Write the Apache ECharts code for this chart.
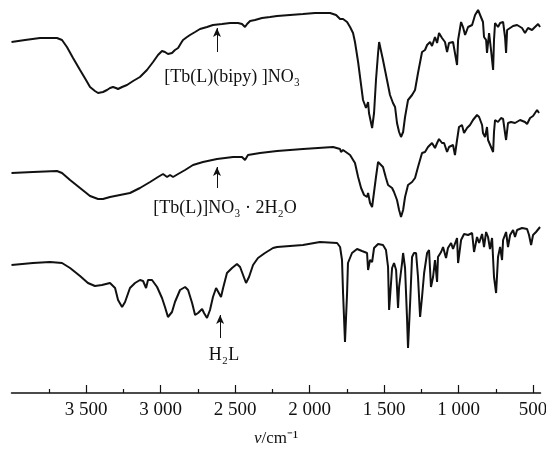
<!DOCTYPE html>
<html>
<head>
<meta charset="utf-8">
<script src="https://cdn.jsdelivr.net/npm/echarts@6.0.0/dist/echarts.min.js"></script>
<style>
	html, body { margin: 0; padding: 0; background: #fff; }
	#chart { width: 546px; height: 450px; }
</style>
</head>
<body>
<div id="chart"></div>
<script>
	// 红外光谱 (arbitrary offset transmittance)
	const bipyWn = [4000,3909,3809,3695,3661,3628,3587,3540,3500,3473,3440,3419,3386,3359,3339,3319,3299,3285,3258,3225,3184,3138,3091,3050,3017,2990,2970,2950,2923,2903,2882,2862,2849,2822,2802,2768,2735,2688,2648,2587,2533,2480,2453,2433,2419,2399,2366,2319,2265,2218,2131,2044,1963,1862,1822,1795,1789,1775,1748,1728,1708,1695,1674,1654,1641,1621,1607,1601,1580,1567,1554,1540,1533,1520,1507,1480,1460,1440,1426,1413,1399,1386,1372,1359,1339,1312,1292,1272,1245,1225,1211,1191,1178,1158,1144,1131,1111,1091,1077,1064,1037,1024,1010,1003,983,970,956,936,909,889,869,856,836,829,815,809,795,782,768,762,755,735,721,701,688,681,674,654,634,607,574,554,534,507,487,466,453];
	const bipyT = [351,353,355,355,353,346,335,323,313,306,302,300,301,303,305,306,305,304,306,308,312,316,323,331,338,342,341,339,340,343,345,350,353,356,358,361,364,366,368,369,370,370,369,366,369,372,373,375,376,377,378,379,380,380,378,374,372,374,371,366,360,351,331,308,293,285,291,280,265,280,313,340,351,350,333,313,298,290,286,270,261,256,261,276,293,298,303,320,341,343,348,351,347,356,350,360,355,351,341,350,351,350,328,353,371,366,358,366,368,378,383,381,371,356,353,340,360,343,323,353,370,366,370,371,356,340,363,365,367,368,365,360,365,363,366,369,366];

	const hydWn = [4000,3856,3695,3661,3607,3540,3473,3419,3386,3339,3272,3205,3138,3070,3017,2983,2956,2936,2916,2882,2835,2782,2715,2621,2513,2453,2433,2413,2332,2218,2044,1842,1795,1789,1775,1728,1695,1674,1654,1634,1614,1607,1594,1580,1574,1554,1540,1527,1507,1487,1473,1446,1433,1413,1399,1386,1372,1359,1339,1312,1292,1272,1245,1225,1205,1178,1158,1144,1131,1111,1097,1077,1064,1037,1024,1010,997,977,963,943,923,903,876,862,842,836,822,809,802,782,768,762,755,735,715,701,688,681,668,648,621,587,554,540,520,500,473,460];
	const hydT = [220,221,222,220,213,205,197,194,194,196,198,200,205,211,216,219,216,218,216,219,223,228,231,234,236,236,233,238,240,242,244,246,244,241,243,238,230,216,205,198,196,200,190,186,193,216,231,233,226,215,208,205,201,193,183,176,183,196,208,211,215,226,240,241,246,250,245,250,254,250,250,241,246,248,238,253,266,268,260,265,268,273,278,276,268,260,256,266,253,246,241,261,273,271,275,274,260,253,270,271,270,273,271,269,275,277,283,280];

	const ligWn = [4000,3856,3742,3661,3607,3540,3487,3440,3393,3339,3305,3285,3258,3238,3205,3171,3138,3117,3097,3084,3057,3023,2990,2970,2950,2923,2903,2869,2835,2815,2788,2768,2748,2721,2708,2688,2668,2648,2627,2614,2594,2580,2554,2520,2487,2466,2446,2426,2406,2379,2346,2299,2245,2218,2044,1930,1815,1795,1782,1775,1762,1748,1742,1715,1681,1648,1614,1607,1594,1580,1567,1540,1507,1487,1473,1466,1453,1446,1433,1419,1406,1399,1379,1372,1359,1346,1339,1325,1312,1299,1285,1272,1258,1245,1231,1211,1198,1185,1171,1158,1144,1138,1117,1104,1084,1071,1050,1037,1010,1003,983,963,936,909,896,876,862,842,829,815,802,789,775,762,748,735,721,708,701,681,668,654,634,621,607,574,540,527,513,500,480,453];
	const ligT = [128,130,131,130,125,117,110,107,108,110,105,93,86,91,105,110,113,112,105,113,113,106,95,86,76,81,91,103,106,103,90,78,80,84,80,75,83,96,105,106,96,105,120,125,129,126,118,110,116,128,135,140,145,146,148,151,150,146,133,100,51,100,130,140,144,142,140,123,133,131,145,149,148,143,126,83,85,125,130,123,85,106,130,140,125,76,45,90,136,140,140,116,76,96,120,140,143,106,116,133,111,136,141,146,135,145,150,144,155,130,153,159,158,160,141,156,150,159,146,161,156,144,155,116,100,136,146,133,153,161,146,158,163,156,163,165,164,158,148,158,161,166];

	const majorTicks = [3500, 3000, 2500, 2000, 1500, 1000, 500];
	const minorTicks = [3750, 3250, 2750, 2250, 1750, 1250, 750];

	// 标注: 名称, 箭头位置 (波数, 尾, 头), 文字中心
	const labelNames = ['[Tb(L)(bipy) ]NO₃', '[Tb(L)]NO₃ · 2H₂O', 'H₂L'];
	const arrowWn = [2621, 2621, 2600];
	const arrowFrom = [341, 205, 55];
	const arrowTo = [365, 226, 78];
	const labelWn = [2520, 2567, 2574];
	const labelT = [316, 185, 38];

	const serif = "'Liberation Serif', 'Times New Roman', serif";
	const ink = '#111';

	function zip(a, b) {
		return a.map((v, i) => [v, b[i]]);
	}

	function fmtTick(v) {
		if (v >= 1000) {
			return Math.floor(v / 1000) + ' ' + String(v % 1000).padStart(3, '0');
		}
		return String(v);
	}

	const curves = [zip(bipyWn, bipyT), zip(hydWn, hydT), zip(ligWn, ligT)];

	const series = curves.map((d, i) => ({
		type: 'line',
		data: d,
		showSymbol: false,
		symbol: 'none',
		lineStyle: { color: ink, width: 2 },
		animation: false,
		markLine: {
			silent: true,
			symbol: ['none', 'arrow'],
			symbolSize: [6, 9],
			lineStyle: { color: ink, width: 1, type: 'solid' },
			label: { show: false },
			data: [[{ coord: [arrowWn[i], arrowFrom[i]] }, { coord: [arrowWn[i], arrowTo[i]] }]]
		},
		markPoint: {
			silent: true,
			symbol: 'circle',
			symbolSize: 0,
			label: {
				show: true,
				position: 'inside',
				color: ink,
				fontFamily: serif,
				fontSize: 18,
				formatter: labelNames[i]
			},
			data: [{ coord: [labelWn[i], labelT[i]] }]
		}
	}));

	const myChart = echarts.init(document.getElementById('chart'));
	myChart.setOption({
		backgroundColor: '#fff',
		animation: false,
		grid: { left: 11.5, right: 5.5, top: 0, bottom: 57, containLabel: false, outerBoundsMode: 'none' },
		xAxis: [{
			type: 'value',
			inverse: true,
			min: 450,
			max: 4000,
			position: 'bottom',
			name: '{nu|ν}/cm⁻¹',
			nameLocation: 'middle',
			nameGap: 37,
			nameTextStyle: {
				color: ink, fontFamily: serif, fontSize: 17,
				rich: { nu: { color: ink, fontFamily: serif, fontSize: 17, fontStyle: 'italic' } }
			},
			axisLine: { lineStyle: { color: ink, width: 1.5 } },
			axisTick: { inside: true, length: 8, lineStyle: { color: ink, width: 1.2 }, customValues: majorTicks },
			axisLabel: { color: ink, fontFamily: serif, fontSize: 19, margin: 8, customValues: majorTicks, formatter: fmtTick },
			splitLine: { show: false }
		}, {
			type: 'value',
			inverse: true,
			min: 450,
			max: 4000,
			position: 'bottom',
			offset: 0,
			axisLine: { show: false },
			axisTick: { inside: true, length: 4, lineStyle: { color: ink, width: 1.2 }, customValues: minorTicks },
			axisLabel: { show: false },
			splitLine: { show: false }
		}],
		yAxis: {
			type: 'value',
			min: 0,
			max: 393,
			show: false
		},
		series: series
	});
</script>
</body>
</html>
